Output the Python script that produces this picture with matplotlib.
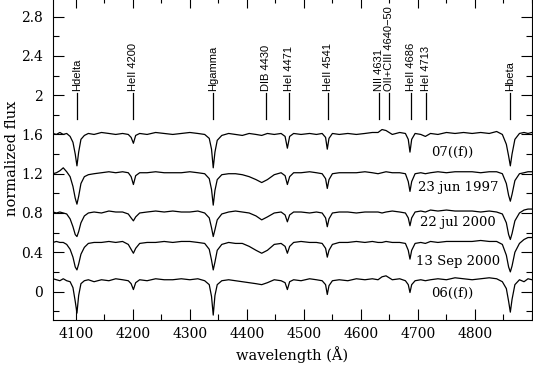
import matplotlib

matplotlib.use("Agg")

import matplotlib.pyplot as plt
from matplotlib.ticker import FormatStrFormatter, MultipleLocator

# wavelength knots (Angstrom) shared by every spectrum
wave = [
    4060, 4066, 4072, 4078, 4084, 4090, 4095, 4099, 4102, 4105, 4109, 4115, 4122,
    4132, 4145, 4158, 4170, 4182, 4192, 4197, 4201, 4205, 4212,
    4225, 4240, 4255, 4270, 4285, 4300, 4314, 4326, 4334, 4338, 4341, 4344, 4348, 4356,
    4368, 4380, 4392, 4404, 4416, 4426, 4436, 4448, 4460, 4467, 4471, 4475, 4482,
    4495, 4510, 4522, 4532, 4538, 4541, 4544, 4550, 4562,
    4577, 4592, 4607, 4620, 4630, 4637, 4644, 4655, 4668, 4678, 4683, 4686, 4689, 4695,
    4705, 4713, 4722, 4735, 4750, 4765, 4780, 4795, 4810, 4825, 4838, 4848, 4855, 4859,
    4862, 4865, 4870, 4878, 4886, 4893, 4900,
]

# normalized flux + vertical offset
flux_o7 = [
    1.61, 1.60, 1.62, 1.60, 1.61, 1.58, 1.52, 1.40, 1.28, 1.42, 1.55, 1.59, 1.61,
    1.60, 1.62, 1.61, 1.60, 1.61, 1.60, 1.57, 1.51, 1.59, 1.61,
    1.60, 1.62, 1.61, 1.60, 1.61, 1.62, 1.61, 1.60, 1.56, 1.45, 1.26, 1.42, 1.54, 1.59,
    1.61, 1.60, 1.59, 1.61, 1.60, 1.59, 1.61, 1.60, 1.61, 1.58, 1.46, 1.58, 1.61,
    1.60, 1.61, 1.60, 1.61, 1.57, 1.45, 1.56, 1.61, 1.60,
    1.61, 1.60, 1.61, 1.62, 1.62, 1.65, 1.64, 1.60, 1.62, 1.61, 1.55, 1.42, 1.55, 1.61,
    1.60, 1.58, 1.61, 1.60, 1.62, 1.61, 1.62, 1.61, 1.62, 1.61, 1.63, 1.60, 1.50, 1.38,
    1.28, 1.40, 1.55, 1.61, 1.62, 1.61, 1.62,
]
flux_jun97 = [
    1.20, 1.21, 1.23, 1.26, 1.22, 1.17, 1.07, 0.95, 0.89, 0.97, 1.10, 1.17, 1.19,
    1.20, 1.21, 1.22, 1.21, 1.22, 1.21, 1.17, 1.09, 1.18, 1.21,
    1.21, 1.22, 1.21, 1.21, 1.21, 1.22, 1.21, 1.20, 1.15, 1.04, 0.88, 1.03, 1.14, 1.19,
    1.20, 1.20, 1.19, 1.17, 1.14, 1.11, 1.14, 1.19, 1.21, 1.18, 1.09, 1.17, 1.21,
    1.21, 1.22, 1.21, 1.20, 1.15, 1.05, 1.14, 1.20, 1.21,
    1.21, 1.21, 1.22, 1.21, 1.20, 1.21, 1.22, 1.21, 1.21, 1.20, 1.12, 1.02, 1.12, 1.20,
    1.21, 1.20, 1.21, 1.22, 1.21, 1.22, 1.22, 1.22, 1.21, 1.22, 1.22, 1.20, 1.10, 0.98,
    0.92, 0.99, 1.13, 1.20, 1.21, 1.22, 1.22,
]
flux_jul00 = [
    0.81, 0.80, 0.81, 0.80, 0.79, 0.74, 0.66, 0.58, 0.56, 0.61, 0.70, 0.77, 0.80,
    0.81, 0.80, 0.82, 0.81, 0.81, 0.79, 0.75, 0.72, 0.76, 0.80,
    0.81, 0.82, 0.81, 0.82, 0.81, 0.81, 0.82, 0.80, 0.75, 0.65, 0.56, 0.63, 0.73, 0.79,
    0.81, 0.82, 0.81, 0.80, 0.77, 0.73, 0.76, 0.80, 0.81, 0.78, 0.71, 0.78, 0.81,
    0.81, 0.80, 0.81, 0.80, 0.75, 0.66, 0.74, 0.80, 0.81,
    0.81, 0.80, 0.81, 0.81, 0.81, 0.80, 0.81, 0.82, 0.81, 0.80, 0.75, 0.67, 0.75, 0.81,
    0.82, 0.81, 0.83, 0.82, 0.83, 0.82, 0.82, 0.82, 0.81, 0.82, 0.81, 0.79, 0.70, 0.58,
    0.53, 0.59, 0.72, 0.80, 0.83, 0.84, 0.84,
]
flux_sep00 = [
    0.50, 0.51, 0.50, 0.50, 0.48, 0.43, 0.35, 0.25, 0.22, 0.28, 0.38, 0.45, 0.49,
    0.50, 0.50, 0.51, 0.50, 0.51, 0.48, 0.43, 0.39, 0.44, 0.49,
    0.50, 0.50, 0.51, 0.50, 0.51, 0.51, 0.50, 0.49, 0.43, 0.32, 0.22, 0.30, 0.42, 0.48,
    0.50, 0.49, 0.49, 0.46, 0.42, 0.39, 0.42, 0.48, 0.49, 0.46, 0.39, 0.46, 0.50,
    0.51, 0.50, 0.50, 0.49, 0.44, 0.35, 0.42, 0.48, 0.50,
    0.50, 0.51, 0.50, 0.51, 0.50, 0.50, 0.51, 0.50, 0.50, 0.49, 0.42, 0.33, 0.42, 0.49,
    0.50, 0.49, 0.51, 0.50, 0.51, 0.51, 0.51, 0.51, 0.52, 0.51, 0.51, 0.48, 0.37, 0.25,
    0.20, 0.26, 0.40, 0.49, 0.53, 0.55, 0.55,
]
flux_o6 = [
    0.13, 0.12, 0.11, 0.13, 0.11, 0.10, 0.04, -0.10, -0.22, -0.04, 0.08, 0.11, 0.12,
    0.10, 0.12, 0.11, 0.13, 0.12, 0.11, 0.08, 0.02, 0.09, 0.12,
    0.11, 0.13, 0.12, 0.12, 0.13, 0.12, 0.13, 0.11, 0.07, -0.05, -0.24, -0.04, 0.07, 0.11,
    0.12, 0.11, 0.10, 0.09, 0.08, 0.07, 0.09, 0.12, 0.11, 0.09, 0.02, 0.10, 0.12,
    0.11, 0.13, 0.12, 0.11, 0.07, -0.03, 0.06, 0.11, 0.12,
    0.11, 0.13, 0.12, 0.13, 0.12, 0.15, 0.16, 0.12, 0.13, 0.11, 0.07, -0.01, 0.07, 0.11,
    0.12, 0.11, 0.12, 0.13, 0.12, 0.14, 0.13, 0.12, 0.13, 0.14, 0.13, 0.10, 0.03, -0.10,
    -0.21, -0.08, 0.07, 0.12, 0.10, 0.13, 0.12,
]

spectra = [flux_o7, flux_jun97, flux_jul00, flux_sep00, flux_o6]
spec_labels = ["07((f))", "23 jun 1997", "22 jul 2000", "13 Sep 2000", "06((f))"]
spec_label_x = [4760, 4770, 4770, 4770, 4760]
spec_label_y = [1.42, 1.055, 0.70, 0.31, -0.02]

line_names = ["Hdelta", "HeII 4200", "Hgamma", "DIB 4430", "HeI 4471", "HeII 4541",
              "NII 4631", "OII+CIII 4640\u221250", "HeII 4686", "HeI 4713", "Hbeta"]
line_waves = [4101.7, 4200, 4340.5, 4433, 4473, 4543, 4631, 4649, 4688, 4714, 4862]

x_labeled = [4100, 4200, 4300, 4400, 4500, 4600, 4700, 4800]

fig = plt.figure(figsize=(5.33, 3.66), dpi=100)
# top edge of the frame sits just above the picture, as in the original
ax = fig.add_axes([53 / 533, 46 / 366, 479 / 533, 323 / 366])

for flux in spectra:
    ax.plot(wave, flux, color="black", linewidth=0.9)

for name, lw in zip(line_names, line_waves):
    ax.plot([lw, lw], [1.76, 2.02], color="black", linewidth=0.9)
    ax.text(lw, 2.04, name, rotation=90, ha="center", va="bottom",
            fontsize=8, family="Liberation Sans")

for lab, x, y in zip(spec_labels, spec_label_x, spec_label_y):
    ax.text(x, y, lab, ha="center", va="center", fontsize=9.5, family="DejaVu Serif")

ax.set_xlim(4060, 4900)
ax.set_ylim(-0.29, 3.0)
ax.set_xticks(x_labeled)
ax.xaxis.set_minor_locator(MultipleLocator(50))
ax.yaxis.set_major_locator(MultipleLocator(0.4))
ax.yaxis.set_minor_locator(MultipleLocator(0.2))
ax.yaxis.set_major_formatter(FormatStrFormatter("%g"))
ax.tick_params(which="both", direction="in", top=True, right=True, width=0.8)
ax.tick_params(which="major", length=8)
ax.tick_params(which="minor", length=4)
ax.tick_params(axis="x", pad=5)
ax.tick_params(axis="y", pad=7)
for lbl in ax.get_xticklabels() + ax.get_yticklabels():
    lbl.set_family("DejaVu Serif")
    lbl.set_fontsize(10)
for spine in ax.spines.values():
    spine.set_linewidth(0.8)

ax.set_xlabel("wavelength (Å)", family="DejaVu Serif", fontsize=10.5, labelpad=4)
ax.set_ylabel("normalized flux", family="DejaVu Serif", fontsize=10.5)
ax.yaxis.set_label_coords(-0.072, 0.5)

fig.savefig("out.png", dpi=100)
